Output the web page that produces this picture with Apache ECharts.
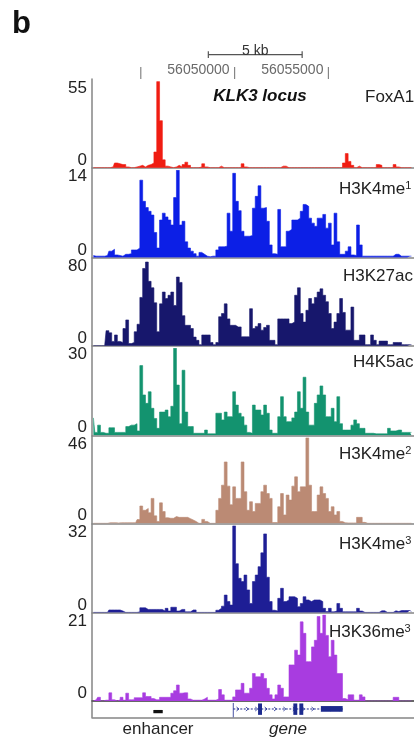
<!DOCTYPE html>
<html>
<head>
<meta charset="utf-8">
<title>KLK3 locus</title>
<script src="https://cdn.jsdelivr.net/npm/echarts@6/dist/echarts.min.js"></script>
<style>
    html, body { margin: 0; padding: 0; background: #fff; }
    #main { width: 414px; height: 738px; }
</style>
</head>
<body>
<div id="main"></div>
<script>
// genomic window and 150 bp bins
var binStart = 56042400, binSize = 150;
var xMin = 56042400, xMax = 56061000;
var rulerTicks = [56045000, 56050000, 56055000];
var rulerLabels = [56050000, 56055000];
var scaleBar = [56048600, 56053600];
var enhancer = [[56045670, 56046170]];
var geneSpan = [[56049930, 56055760]];
var exons = [[56051250, 56051460], [56053130, 56053340], [56053450, 56053660]];
var utr = [[56054600, 56055760]];

var trackNames = ['FoxA1', 'H3K4me{s|1}', 'H3K27ac', 'H4K5ac', 'H3K4me{s|2}', 'H3K4me{s|3}', 'H3K36me{s|3}'];
var trackMax = [55, 14, 80, 30, 46, 32, 21];

var foxa1 = [
    0, 0, 0, 0, 0, 0, 0, 0.5, 3, 2.5,
    2, 2, 0.5, 0, 0, 0.5, 1, 1.5, 0.5, 1.5,
    2, 3, 10, 55, 30, 5, 1, 0.5, 0, 0.5,
    1.5, 0.5, 2, 3.5, 1.5, 0, 0, 0, 0.5, 2.5,
    0.5, 0, 0, 0, 0, 1, 0, 0, 0, 0,
    0, 0, 0, 2.5, 0.5, 0, 0, 0, 0, 0,
    0, 0, 0, 0, 0, 0, 0, 1, 1, 0,
    0, 0, 0, 0, 0, 0, 0, 0, 0, 0,
    0, 0, 0, 0, 0, 0, 0, 0, 0, 3,
    9, 4, 1.5, 0, 1, 0, 0, 0, 0, 0,
    0, 2, 1.5, 0, 0, 0, 0, 2, 0.5, 0,
    0, 0, 0, 0
];
var h3k4me1 = [
    0.3, 0.2, 0.2, 0.2, 0.2, 0.3, 1, 1.3, 0.4, 0.3,
    0.2, 0.5, 0.5, 0.6, 1.2, 1.2, 1.5, 12.4, 9, 8,
    7.4, 6.8, 4, 1.5, 6, 7.1, 6.5, 6, 5.2, 9.6,
    14, 5.2, 5.8, 2.5, 1.5, 1, 0.6, 0.2, 0.8, 0.5,
    0.2, 0.1, 0.2, 0.2, 1.2, 1.7, 1.7, 1.8, 7.1, 4.2,
    13.5, 9, 7.5, 4.2, 3.4, 3.4, 3.5, 7.9, 9.8, 11.5,
    7.9, 8, 5.8, 2, 0.6, 0.5, 7.7, 1.7, 1.7, 4.2,
    4.5, 6, 6, 6.3, 7.4, 8.5, 8.2, 6.3, 5.5, 5,
    6.3, 6.3, 6.9, 4.7, 5.5, 2, 7.1, 2.5, 0.5, 0.5,
    1, 1.7, 0.4, 0.3, 5.2, 2, 0.2, 0.2, 0.2, 0.2,
    0.2, 0.2, 0.2, 0.2, 0.2, 0.2, 0.2, 0.5, 0.5, 0.2,
    0.2, 0.2, 0.2, 0.2
];
var h3k27ac = [
    0, 0, 0, 0, 0, 14, 12, 4, 10, 4,
    3, 16, 24, 2, 3, 13, 20, 45, 72, 78,
    60, 54, 40, 13, 39, 50, 44, 47, 50, 37.5,
    64, 59, 28, 19, 19, 16, 8, 5, 1, 10,
    10, 10, 3, 1, 3, 27, 30, 39, 25, 19,
    19, 17.5, 17.5, 8.3, 8.3, 8.3, 34.5, 16, 18, 20.6,
    14.5, 17, 19, 5, 5, 1, 25, 25, 25, 25,
    20.6, 22, 47, 54, 30, 22, 33, 44, 39, 45,
    50, 53, 47, 41, 30, 16, 22, 30, 44, 31,
    14.5, 14.5, 36, 5, 5, 10, 10, 1, 1, 10,
    5, 1, 4.3, 4.3, 4.3, 1, 1, 3, 3, 3,
    1, 1, 1, 1
];
var h4k5ac = [
    6, 1, 3.5, 1, 0.7, 0.7, 2.6, 2.6, 1, 1,
    1, 1, 3, 3.5, 3.5, 4, 1.5, 24, 13.9, 11,
    15, 9.3, 5.8, 2.4, 8, 8, 8.7, 6.4, 10, 30,
    17.3, 4, 22.4, 8, 3, 3, 0.7, 0.7, 0.7, 0.7,
    1.8, 0.5, 0.5, 0.5, 7.6, 7.6, 5.3, 8, 6.4, 6.4,
    15, 10.4, 7.6, 6.4, 3.5, 1, 0.7, 10.4, 8.7, 8.7,
    7, 10.4, 7.6, 1.8, 0.7, 0.7, 6.4, 13.3, 6.4, 4.7,
    4.7, 6, 8, 15, 9.3, 20, 8, 3.5, 3.5, 11,
    13.9, 17, 13.9, 6.4, 6.4, 9.3, 4.7, 13.3, 4, 1.8,
    1.8, 1.8, 3.5, 5.3, 4, 2.4, 2.4, 0.7, 0.7, 0.7,
    0.5, 0.5, 0.5, 0.5, 0.5, 2.4, 1.5, 1.5, 1.8, 1.8,
    1, 1, 1, 1
];
var h3k4me2 = [
    0, 0, 0, 0, 0, 0, 0.3, 0.3, 0.3, 0.2,
    0.3, 0.3, 0.3, 0.3, 0.3, 0.3, 2, 9.3, 7, 8,
    5.7, 13.4, 4, 1, 11, 6.3, 3, 2.7, 2.7, 3.6,
    3.2, 3.2, 3.2, 3.2, 2.5, 1.8, 1, 0, 0, 2.1,
    1, 0, 0, 0, 7, 13.4, 20.5, 33, 20, 10,
    19.6, 13.4, 13.4, 33, 17, 7, 11.6, 6.3, 10.7, 10.7,
    17, 20.5, 16, 13.4, 0.4, 0.4, 8.9, 16, 4.5, 15.2,
    12.5, 20, 25, 17, 19.6, 19.6, 46, 20.5, 6.3, 6.3,
    15.2, 19.6, 16, 13.4, 6.3, 8.9, 4.5, 6.3, 1, 0.3,
    0.2, 0.2, 0.2, 0.2, 3.2, 3.2, 0.5, 0, 0, 0,
    0, 0, 0, 0, 0, 0, 0, 0, 0, 0,
    0, 0, 0, 0
];
var h3k4me3 = [
    0, 0, 0, 0, 0, 0, 0.9, 0.9, 0.9, 0.9,
    0.5, 0, 0, 0, 0, 0, 0.2, 1.7, 1.7, 1.1,
    1.1, 1.1, 1.1, 1.1, 1.1, 0.5, 1.5, 0.5, 1.9, 1.9,
    0.5, 1.1, 1.1, 0.2, 0.2, 0.9, 0.9, 0, 0, 0,
    0, 0, 0, 0, 0.8, 1.5, 2.3, 6.4, 4, 2.7,
    32, 18, 12.6, 11.4, 13.8, 8.3, 3.3, 11.4, 13.8, 16.9,
    22, 29, 13, 4, 0.8, 0.5, 5.2, 8.9, 4, 4.6,
    5.8, 5.8, 5.2, 2.1, 3.3, 5.8, 4.6, 4, 4.6, 4.6,
    4.6, 4, 1.5, 0.3, 1.5, 0.2, 0.5, 3.3, 1.5, 0.2,
    0.2, 0.2, 0.2, 0.2, 1.5, 0.5, 0, 0, 0, 0,
    0, 0, 0.6, 0.6, 0, 0, 0, 0.6, 0.3, 0.7,
    0.7, 0.7, 0.7, 0.3
];
var h3k36me3 = [
    0, 0.3, 0.9, 0, 0.2, 0.2, 2, 0.3, 0, 0.3,
    0.9, 0.2, 1.9, 0.3, 0.3, 0.8, 0.8, 0.8, 2, 1.1,
    1.1, 0.6, 0.3, 0.3, 0.9, 0.9, 0.9, 0.9, 1.9, 2.5,
    3.9, 1.9, 2, 2, 0.5, 0.2, 0.2, 0.2, 0.2, 0.5,
    0.9, 0.2, 0.2, 0.2, 0.5, 2.8, 1.5, 0.2, 0.2, 0.2,
    1, 2.7, 2.7, 4.3, 1.9, 1.9, 3.1, 6.7, 5.9, 5.9,
    6.7, 5.5, 3.1, 1.5, 0.5, 1.5, 3.9, 3.1, 1, 1,
    8.8, 8.8, 12.4, 11.2, 19.3, 16.5, 9.6, 9.6, 13.2, 14.8,
    20.6, 16.5, 21, 16, 10.8, 14.8, 11.2, 6.7, 6.7, 0.6,
    0.3, 1.5, 1.5, 0.2, 0.2, 1.5, 1, 0, 0, 0,
    0, 0, 0, 0, 0, 0, 0, 0.9, 0.9, 0,
    0, 0, 0, 0
];
var tracks = [foxa1, h3k4me1, h3k27ac, h4k5ac, h3k4me2, h3k4me3, h3k36me3];

var trackColors = ['#f01d12', '#0c1fe6', '#17176c', '#13936f', '#bb8a74', '#1e1e95', '#a83ce0'];
var geneColor = '#1c2a8e';
var frameColor = '#858585';
var FONT = '"Liberation Sans", Arial, Helvetica, sans-serif';

// layout of the track rows (pixels)
var trackTop = [79, 167.7, 257.4, 345.7, 435.3, 523.3, 612.4];
var trackBase = [167.7, 257.4, 345.7, 435.3, 523.3, 612.4, 701];
var labelPos = [[365, 97], [339, 189], [343, 276], [353, 362], [339, 454], [339, 544], [329, 632]];
var LEFT = 92, WIDTH = 349;

var myChart = echarts.init(document.getElementById('main'));

var grids = [], xAxes = [], yAxes = [], series = [], graphics = [];

function makeGrid(top, height) {
    return { left: LEFT, width: WIDTH, top: top, height: height, outerBoundsMode: 'none', containLabel: false };
}

// frame: ruler line on top, vertical line on the left
grids.push(makeGrid(79, 717.3 - 79));
xAxes.push({
    gridIndex: 0, type: 'value', min: xMin, max: xMax, position: 'top',
    axisLine: { lineStyle: { color: frameColor, width: 1.5 } },
    axisTick: { show: false },
    axisLabel: {
        customValues: rulerLabels, align: 'right', margin: 2, padding: [0, 5, 0, 0],
        fontFamily: FONT, fontSize: 14, color: '#6a6a6a',
        formatter: function (v) { return String(v); }
    },
    splitLine: { show: false }
});
yAxes.push({
    gridIndex: 0, type: 'value', min: 0, max: 1,
    axisLine: { show: true, lineStyle: { color: frameColor, width: 1.5 } },
    axisTick: { show: false }, axisLabel: { show: false }, splitLine: { show: false }
});

tracks.forEach(function (vals, k) {
    var g = k + 1;
    grids.push(makeGrid(trackTop[k] + 2.5, trackBase[k] - trackTop[k] - 2.5));
    xAxes.push({
        gridIndex: g, type: 'value', min: xMin, max: xMax,
        axisLine: { lineStyle: { color: frameColor, width: 1.5 } },
        axisTick: { show: false }, axisLabel: { show: false }, splitLine: { show: false }
    });
    yAxes.push({
        gridIndex: g, type: 'value', min: 0, max: trackMax[k], interval: trackMax[k],
        axisLine: { show: false }, axisTick: { show: false }, splitLine: { show: false },
        axisLabel: {
            margin: 5,
            formatter: function (v) { return v === 0 ? '{lo|0}' : '{hi|' + v + '}'; },
            rich: {
                hi: { fontFamily: FONT, fontSize: 17, color: '#222', padding: [13, 0, 0, 0] },
                lo: { fontFamily: FONT, fontSize: 17, color: '#222', padding: [0, 0, 15, 0] }
            }
        }
    });
    series.push({
        type: 'line', xAxisIndex: g, yAxisIndex: g,
        data: vals.map(function (v, i) { return [binStart + binSize * i + binSize / 2, v]; }),
        step: 'middle', symbol: 'none', silent: true,
        lineStyle: { width: 0.6, color: trackColors[k] },
        areaStyle: { color: trackColors[k], opacity: 1 }
    });
    graphics.push({
        type: 'text', x: labelPos[k][0], y: labelPos[k][1],
        style: {
            text: trackNames[k], fontFamily: FONT, fontSize: 17, fill: '#222', verticalAlign: 'middle',
            rich: { s: { fontFamily: FONT, fontSize: 11, fill: '#222', verticalAlign: 'top' } }
        }
    });
});

// gene annotation row
grids.push(makeGrid(701, 16.3));
xAxes.push({
    gridIndex: 8, type: 'value', min: xMin, max: xMax,
    axisLine: { lineStyle: { color: '#555', width: 1.5 } },
    axisTick: { show: false }, axisLabel: { show: false }, splitLine: { show: false }
});
yAxes.push({ gridIndex: 8, type: 'value', min: 0, max: 1, inverse: true, show: false });

// scale bar row
grids.push(makeGrid(51.3, 6.7));
xAxes.push({ gridIndex: 9, type: 'value', min: xMin, max: xMax, show: false });
yAxes.push({ gridIndex: 9, type: 'value', min: 0, max: 1, inverse: true, show: false });

// ruler tick row
grids.push(makeGrid(67, 12));
xAxes.push({ gridIndex: 10, type: 'value', min: xMin, max: xMax, show: false });
yAxes.push({ gridIndex: 10, type: 'value', min: 0, max: 1, inverse: true, show: false });

function boxItem(y0, y1, color) {
    return function (params, api) {
        var a = api.coord([api.value(0), y0]);
        var b = api.coord([api.value(1), y1]);
        return { type: 'rect', shape: { x: a[0], y: a[1], width: b[0] - a[0], height: b[1] - a[1] }, style: { fill: color } };
    };
}

series.push({
    type: 'custom', xAxisIndex: 8, yAxisIndex: 8, silent: true, data: geneSpan,
    renderItem: function (params, api) {
        var s = api.coord([api.value(0), 0.49]);
        var e = api.coord([api.value(1), 0.49]);
        var t = api.coord([api.value(0), 0.12]);
        var b = api.coord([api.value(0), 1]);
        var kids = [
            { type: 'line', shape: { x1: s[0], y1: s[1], x2: e[0], y2: e[1] }, style: { stroke: geneColor, lineWidth: 1, lineDash: [2, 1.5] } },
            { type: 'line', shape: { x1: s[0], y1: t[1], x2: s[0], y2: b[1] }, style: { stroke: geneColor, lineWidth: 0.8 } },
            { type: 'text', style: { text: 'gene', x: (s[0] + e[0]) / 2, y: b[1] + 12, align: 'center', verticalAlign: 'middle',
                fontFamily: FONT, fontSize: 17, fontStyle: 'italic', fill: '#222' } }
        ];
        for (var x = api.value(0) + 250; x < api.value(1); x += 500) {
            var p = api.coord([x, 0.49]);
            kids.push({ type: 'polyline', shape: { points: [[p[0] - 1.5, p[1] - 2], [p[0] + 1, p[1]], [p[0] - 1.5, p[1] + 2]] },
                style: { stroke: geneColor, fill: null, lineWidth: 0.8 } });
        }
        return { type: 'group', children: kids };
    }
});
series.push({ type: 'custom', xAxisIndex: 8, yAxisIndex: 8, silent: true, data: exons, renderItem: boxItem(0.15, 0.85, geneColor) });
series.push({ type: 'custom', xAxisIndex: 8, yAxisIndex: 8, silent: true, data: utr, renderItem: boxItem(0.31, 0.66, geneColor) });
series.push({
    type: 'custom', xAxisIndex: 8, yAxisIndex: 8, silent: true, data: enhancer,
    renderItem: function (params, api) {
        var a = api.coord([api.value(0), 0.55]);
        var b = api.coord([api.value(1), 0.75]);
        var bot = api.coord([api.value(0), 1]);
        return { type: 'group', children: [
            { type: 'rect', shape: { x: a[0], y: a[1], width: b[0] - a[0], height: b[1] - a[1] }, style: { fill: '#111' } },
            { type: 'text', style: { text: 'enhancer', x: (a[0] + b[0]) / 2, y: bot[1] + 12, align: 'center', verticalAlign: 'middle',
                fontFamily: FONT, fontSize: 17, fill: '#222' } }
        ] };
    }
});
series.push({
    type: 'custom', xAxisIndex: 9, yAxisIndex: 9, silent: true, data: [scaleBar],
    renderItem: function (params, api) {
        var s0 = api.coord([api.value(0), 0]), s1 = api.coord([api.value(0), 1]);
        var e0 = api.coord([api.value(1), 0]), e1 = api.coord([api.value(1), 1]);
        var m = api.coord([api.value(0), 0.5]);
        var st = { stroke: '#555', lineWidth: 1.2 };
        return { type: 'group', children: [
            { type: 'line', shape: { x1: s0[0], y1: m[1], x2: e0[0], y2: m[1] }, style: st },
            { type: 'line', shape: { x1: s0[0], y1: s0[1], x2: s1[0], y2: s1[1] }, style: st },
            { type: 'line', shape: { x1: e0[0], y1: e0[1], x2: e1[0], y2: e1[1] }, style: st },
            { type: 'text', style: { text: '5 kb', x: (s0[0] + e0[0]) / 2, y: m[1] - 3.5, align: 'center', verticalAlign: 'middle',
                fontFamily: FONT, fontSize: 14, fill: '#333' } }
        ] };
    }
});
series.push({
    type: 'custom', xAxisIndex: 10, yAxisIndex: 10, silent: true,
    data: rulerTicks.map(function (v) { return [v]; }),
    renderItem: function (params, api) {
        var a = api.coord([api.value(0), 0]), b = api.coord([api.value(0), 1]);
        return { type: 'line', shape: { x1: a[0], y1: a[1], x2: b[0], y2: b[1] }, style: { stroke: frameColor, lineWidth: 1.2 } };
    }
});

graphics.push({ type: 'text', x: 12, y: 24, style: { text: 'b', fontFamily: FONT, fontSize: 31, fontWeight: 'bold', fill: '#111', verticalAlign: 'middle' } });
graphics.push({ type: 'text', x: 260, y: 96, style: { text: 'KLK3 locus', fontFamily: FONT, fontSize: 17, fontWeight: 'bold', fontStyle: 'italic', fill: '#111', align: 'center', verticalAlign: 'middle' } });

var option = {
    animation: false,
    backgroundColor: '#fff',
    grid: grids,
    xAxis: xAxes,
    yAxis: yAxes,
    series: series,
    graphic: graphics
};
myChart.setOption(option);
</script>
</body>
</html>
